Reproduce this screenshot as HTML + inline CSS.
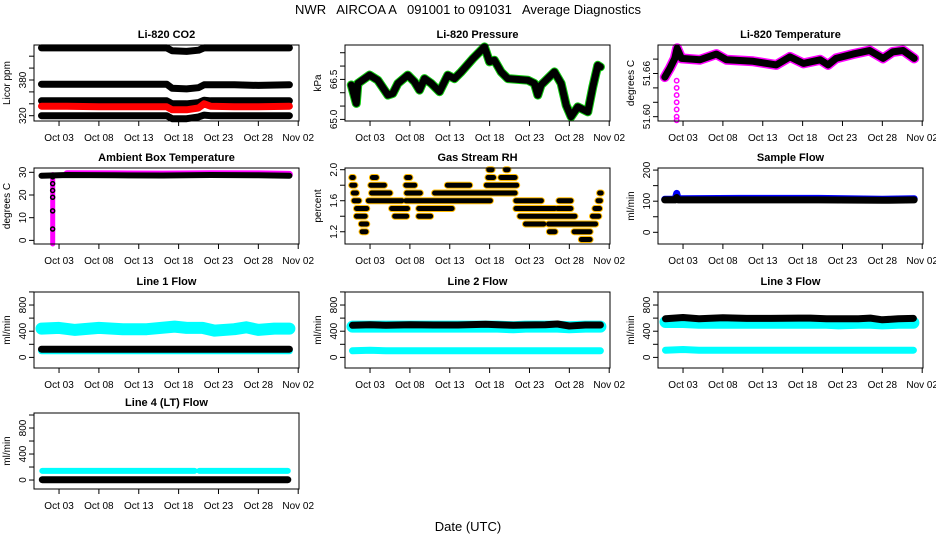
<!DOCTYPE html>
<html><head><meta charset="utf-8">
<style>
body{margin:0;background:#fff;}
svg{display:block;font-family:"Liberation Sans",Arial,sans-serif;}
</style></head>
<body>
<svg id="chart" width="936" height="540" viewBox="0 0 936 540" xmlns="http://www.w3.org/2000/svg">
<rect width="936" height="540" fill="#fff"/>
<text x="468" y="14" font-size="13" text-anchor="middle" style="white-space:pre" xml:space="preserve">NWR   AIRCOA A   091001 to 091031   Average Diagnostics</text>
<text x="468" y="531" font-size="13" text-anchor="middle">Date (UTC)</text>
</svg>
<script>
// ---- shared x axis data ----
const xTickDays = [3, 8, 13, 18, 23, 28, 33];
const xTickLabels = ["Oct 03", "Oct 08", "Oct 13", "Oct 18", "Oct 23", "Oct 28", "Nov 02"];

// ---- CO2 ----
const co2Days = [0.8, 4, 8, 12, 16.5, 17.2, 19, 20.5, 21.2, 22, 25, 28, 31.9];
const co2Top = [434, 434, 434, 434, 434, 429, 428, 430, 434, 434, 434, 434, 434];
const co2Mid = [373, 373, 373, 373, 373, 366, 365, 367, 372, 372, 372, 371, 372];
const co2Low = [345, 345, 345, 345, 345, 340, 340, 342, 346, 345, 345, 345, 345];
const co2Red = [336, 336, 335, 335, 335, 330, 330, 333, 340, 336, 335, 335, 336];
const co2Bot = [320, 320, 320, 320, 320, 315, 315, 318, 321, 320, 320, 320, 320];

// ---- Pressure ----
const presDays = [0.65, 1.28, 1.48, 2.94, 3.98, 5.24, 5.86, 6.49, 7.74, 8.58, 9.2, 9.83, 10.67, 11.71, 12.76, 13.6, 14.43, 15.9, 17.36, 17.98, 18.6, 19.44, 20.28, 22.79, 23.62, 24.04, 24.46, 26.13, 26.97, 27.6, 28.22, 29.06, 30.31, 30.94, 31.57, 31.9];
const presVals = [66.29, 65.6, 66.35, 66.66, 66.47, 65.91, 65.97, 66.35, 66.66, 66.41, 66.10, 66.53, 66.35, 66.04, 66.66, 66.53, 66.78, 67.28, 67.72, 67.16, 67.22, 66.78, 66.53, 66.47, 66.35, 65.91, 66.29, 66.78, 66.35, 65.53, 65.10, 65.47, 65.28, 66.22, 67.03, 66.97];

// ---- Li-820 Temperature ----
const tempDays = [0.71, 1.34, 1.97, 2.26, 2.8, 5.1, 7.19, 8.45, 11.8, 14.7, 16.4, 18.1, 20.2, 21.2, 22.2, 24.3, 26.4, 28.1, 29.3, 30.6, 32.0];
const tempVals = [51.655, 51.667, 51.681, 51.695, 51.681, 51.679, 51.687, 51.679, 51.677, 51.672, 51.683, 51.674, 51.679, 51.672, 51.681, 51.687, 51.692, 51.681, 51.690, 51.692, 51.681];
const tempSpike = [51.65, 51.64, 51.63, 51.62, 51.61, 51.60, 51.595];

// ---- Ambient box temperature ----
const ambDays = [0.8, 4, 10, 16, 22, 28, 31.9];
const ambVals = [28.5, 28.8, 28.7, 28.6, 28.8, 28.7, 28.5];
const ambSpike = [28, 25, 22, 19, 13, 5];

// ---- Gas stream RH segments ----
const rhStart = [0.7,0.7,0.9,1.0,1.3,1.3,1.9,2.0,3.3,3.1,3.2,2.8,5.7,6.1,7.6,7.5,7.6,7.5,9.1,9.1,11.1,12.7,17.6,17.8,17.9,20.0,19.4,21.3,21.3,21.8,22.5,25.4,25.5,26.7,26.5,28.4,28.6,29.5,30.9,31.2,31.6,31.8];
const rhEnd   = [0.9,1.1,1.3,1.6,2.6,2.4,2.6,2.5,3.8,4.8,5.5,7.0,7.7,7.6,8.0,8.6,9.3,18.1,13.3,10.6,21.2,15.5,21.4,18.5,18.3,20.3,21.2,24.5,26.2,28.7,24.8,29.0,26.2,28.2,28.2,31.3,30.6,30.6,31.7,31.8,31.9,32.0];
const rhVals  = [1.9,1.8,1.7,1.6,1.5,1.4,1.3,1.2,1.9,1.8,1.7,1.6,1.5,1.4,1.9,1.8,1.7,1.6,1.5,1.4,1.7,1.8,1.8,1.9,2.0,2.0,1.9,1.6,1.5,1.4,1.3,1.3,1.2,1.6,1.5,1.3,1.2,1.1,1.4,1.5,1.6,1.7];

// ---- Sample flow ----
const sfDays = [0.7, 2.0, 2.2, 2.4, 10, 20, 28, 32];
const sfBlack = [104, 104, 112, 104, 104, 104, 103, 104];
const sfBlue = [106, 106, 125, 108, 109, 109, 106, 108];

// ---- Line flows ----
const flDays = [0.8, 3, 5, 8, 11, 14, 17.5, 19, 21, 22.5, 25, 26.5, 28, 30, 31.9];
const l1High = [440, 450, 420, 450, 430, 430, 470, 450, 450, 410, 430, 460, 420, 440, 440];
const l1Low = [100, 100, 100, 100, 100, 100, 100, 100, 100, 100, 100, 100, 100, 100, 100];
const l1Black = [125, 125, 125, 125, 125, 125, 125, 125, 125, 125, 125, 125, 125, 125, 125];
const l2High = [470, 470, 470, 470, 470, 470, 470, 470, 460, 470, 470, 470, 460, 470, 470];
const l2Low = [100, 110, 100, 100, 100, 100, 100, 100, 100, 100, 100, 100, 100, 100, 100];
const l2Black = [490, 500, 490, 500, 495, 495, 505, 500, 490, 495, 500, 510, 480, 495, 495];
const l3High = [540, 540, 530, 530, 530, 530, 530, 530, 530, 520, 530, 530, 520, 530, 530];
const l3Low = [110, 120, 110, 110, 110, 110, 110, 110, 110, 110, 110, 110, 110, 110, 110];
const l3Black = [590, 610, 590, 605, 595, 595, 600, 600, 590, 590, 590, 600, 575, 590, 595];
const l4Days = [0.9, 20.0, 20.6, 31.7];
const l4Cyan = [140, 140, 140, 140];
const l4Black = [5, 5, 5, 5];

const svg = document.getElementById('chart');
const NS = 'http://www.w3.org/2000/svg';
function mk(tag, attrs, parent) {
  const e = document.createElementNS(NS, tag);
  for (const k in attrs) e.setAttribute(k, attrs[k]);
  (parent || svg).appendChild(e);
  return e;
}

const W = 265, H = 76, XMIN = -0.14, XMAX = 33.1;

function makePanel(name, left, top, title, ylab, y0, y1, ticks, labels) {
  const g = mk('g', {});
  
  
  const sx = d => left + (d - XMIN) / (XMAX - XMIN) * W;
  const sy = v => top + H - (v - y0) / (y1 - y0) * H;
  const plot = mk('g', {}, g);
  
  
  const box = mk('rect', {x: left, y: top, width: W, height: H, fill: 'none', stroke: '#000', 'stroke-width': 1}, g);
  
  
  const t = mk('text', {x: left + W / 2, y: top - 7, 'font-size': 11, 'font-weight': 'bold', 'text-anchor': 'middle'}, g);
  t.textContent = title;
  
  
  const yl = mk('text', {transform: `translate(${left - 24},${top + H / 2}) rotate(-90)`, 'font-size': 10, 'text-anchor': 'middle'}, g);
  yl.textContent = ylab;
  
  
  ticks.forEach((v, i) => {
    const y = sy(v);
    mk('line', {x1: left - 5, x2: left, y1: y, y2: y, stroke: '#000'}, g);
    if (labels[i] !== '') {
      const tl = mk('text', {transform: `translate(${left - 8},${y}) rotate(-90)`, 'font-size': 10, 'text-anchor': 'middle'}, g);
      tl.textContent = labels[i];
      
      
    }
  });
  xTickDays.forEach((d, i) => {
    const x = sx(d);
    mk('line', {x1: x, x2: x, y1: top + H, y2: top + H + 5, stroke: '#000'}, g);
    const xl = mk('text', {x: x, y: top + H + 20, 'font-size': 10, 'text-anchor': 'middle'}, g);
    xl.textContent = xTickLabels[i];
    
    
  });
  return {sx, sy, plot, name};
}

function band(p, days, vals, color, width, label) {
  const pts = days.map((d, i) => p.sx(d).toFixed(1) + ',' + p.sy(vals[i]).toFixed(1)).join(' ');
  const l = mk('polyline', {points: pts, fill: 'none', stroke: color, 'stroke-width': width, 'stroke-linecap': 'round', 'stroke-linejoin': 'round'}, p.plot);
  
  
}
function dots(p, day, vals, fill, stroke, r, label) {
  vals.forEach(v => {
    const c = mk('circle', {cx: p.sx(day), cy: p.sy(v), r: r, fill: fill, stroke: stroke, 'stroke-width': 1.5}, p.plot);
    
    
  });
}

const L = [34, 345, 658], T = [45, 168, 292, 413];

// CO2
const pc = makePanel('co2', L[0], T[0], 'Li-820 CO2', 'Licor ppm', 311.1, 438.8, [320, 340, 360, 380, 400, 420], ['320', '', '', '380', '', '']);
band(pc, co2Days, co2Top, '#000', 7, 'series-top');
band(pc, co2Days, co2Mid, '#000', 7, 'series-mid');
band(pc, co2Days, co2Low, '#000', 7, 'series-low');
band(pc, co2Days, co2Red, '#f00', 7, 'series-red');
band(pc, co2Days, co2Bot, '#000', 7, 'series-bottom');

// Pressure
const pp = makePanel('pressure', L[1], T[0], 'Li-820 Pressure', 'kPa', 64.94, 67.79, [65.0, 65.5, 66.0, 66.5, 67.0, 67.5], ['65.0', '', '', '66.5', '', '']);
band(pp, presDays, presVals, '#1c1', 9, 'series-green');
band(pp, presDays, presVals, '#000', 7, 'series-black');

// Li-820 Temperature
const pt = makePanel('li820-temp', L[2], T[0], 'Li-820 Temperature', 'degrees C', 51.594, 51.6996, [51.60, 51.62, 51.64, 51.66, 51.68], ['51.60', '', '', '51.66', '']);
band(pt, tempDays, tempVals, '#f0f', 10, 'series-magenta');
band(pt, tempDays, tempVals, '#000', 7, 'series-black');
dots(pt, 2.2, tempSpike, 'none', '#f0f', 2.2, 'spike');

// Ambient
const pa = makePanel('ambient-temp', L[0], T[1], 'Ambient Box Temperature', 'degrees C', -1.6, 31.9, [0, 10, 20, 30], ['0', '10', '20', '30']);
band(pa, ambDays.slice(1), ambVals.slice(1).map(v => v + 0.6), '#f0f', 7, 'series-magenta');
band(pa, [2.2, 2.2], [29, -1.6], '#f0f', 5, 'spike-magenta');
band(pa, ambDays, ambVals, '#000', 6, 'series-black');
dots(pa, 2.2, ambSpike, 'none', '#000', 2, 'spike');

// RH
const pr = makePanel('gas-rh', L[1], T[1], 'Gas Stream RH', 'percent', 1.042, 2.022, [1.2, 1.4, 1.6, 1.8, 2.0], ['1.2', '', '1.6', '', '2.0']);
rhVals.forEach((v, i) => {
  band(pr, [rhStart[i], rhEnd[i]], [v, v], '#fb0', 7, 'segment-outline');
});
rhVals.forEach((v, i) => {
  band(pr, [rhStart[i], rhEnd[i]], [v, v], '#000', 5, 'segment');
});

// Sample flow
const ps = makePanel('sample-flow', L[2], T[1], 'Sample Flow', 'ml/min', -37.6, 206.7, [0, 50, 100, 150, 200], ['0', '', '100', '', '200']);
band(ps, sfDays, sfBlue, '#00f', 7, 'series-blue');
band(ps, sfDays, sfBlack, '#000', 7, 'series-black');

// Line flows
const fTicks = [0, 200, 400, 600, 800, 1000], fLabels = ['0', '', '400', '', '800', ''];
const p1 = makePanel('line1-flow', L[0], T[2], 'Line 1 Flow', 'ml/min', -162, 999, fTicks, fLabels);
band(p1, flDays, l1High, '#0ff', 12, 'series-cyan-high');
band(p1, flDays, l1Low, '#0ff', 7, 'series-cyan-low');
band(p1, flDays, l1Black, '#000', 7, 'series-black');

const p2 = makePanel('line2-flow', L[1], T[2], 'Line 2 Flow', 'ml/min', -162, 999, fTicks, fLabels);
band(p2, flDays, l2High, '#0ff', 12, 'series-cyan-high');
band(p2, flDays, l2Low, '#0ff', 7, 'series-cyan-low');
band(p2, flDays, l2Black, '#000', 7, 'series-black');

const p3 = makePanel('line3-flow', L[2], T[2], 'Line 3 Flow', 'ml/min', -162, 999, fTicks, fLabels);
band(p3, flDays, l3High, '#0ff', 12, 'series-cyan-high');
band(p3, flDays, l3Low, '#0ff', 7, 'series-cyan-low');
band(p3, flDays, l3Black, '#000', 7, 'series-black');

const p4 = makePanel('line4-flow', L[0], T[3], 'Line 4 (LT) Flow', 'ml/min', -138, 1031, fTicks, fLabels);
band(p4, l4Days.slice(0, 2), l4Cyan.slice(0, 2), '#0ff', 6, 'series-cyan-a');
band(p4, l4Days.slice(2), l4Cyan.slice(2), '#0ff', 6, 'series-cyan-b');
band(p4, [l4Days[0], l4Days[3]], [l4Black[0], l4Black[3]], '#000', 7, 'series-black');
</script>
</body></html>
